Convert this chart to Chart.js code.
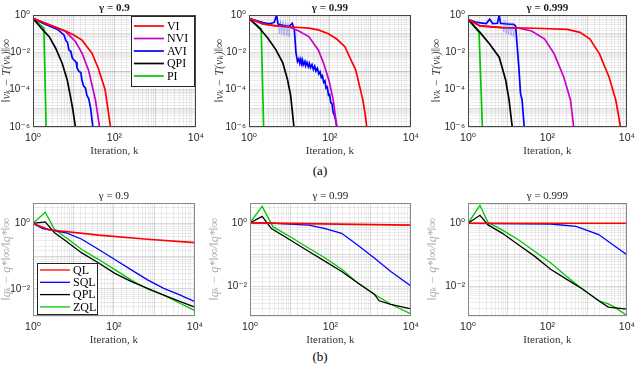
<!DOCTYPE html>
<html>
<head>
<meta charset="utf-8">
<script src="https://cdn.jsdelivr.net/npm/chart.js@4.4.1/dist/chart.umd.min.js"></script>
<style>
  html, body { margin: 0; padding: 0; background: #fff; }
  #fig { position: relative; width: 640px; height: 374px; overflow: hidden; background: #fff; }
  #fig canvas { position: absolute; }
  .tag { position: absolute; width: 40px; text-align: center; font: 13px "Liberation Serif", "DejaVu Serif", serif; color: #000; }
</style>
</head>
<body>
<div id="fig">
  <div class="tag" style="left:300px; top:163px">(a)</div>
  <div class="tag" style="left:300px; top:349px">(b)</div>
</div>
<script>
// tick labels (powers of ten that carry a label)
const xTickExps = [0, 2, 4];
const topTickExps = [0, -2, -4, -6];
const bottomTickExps = [0, -2];
const gammaTitles = ["γ = 0.9", "γ = 0.99", "γ = 0.999"];
const viNames = ["VI", "NVI", "AVI", "QPI", "PI"];
const qlNames = ["QL", "SQL", "QPL", "ZQL"];

// (a) ||v_k - T(v_k)||, pairs of [k, value]
const vi09 = [[1,0.66],[2.5,0.3],[6.3,0.14],[10,0.085],[16,0.045],[28,0.009],[40,1.4e-3],[59,1e-4],[80,1e-6]];
const nvi09 = [[1,0.66],[2.5,0.3],[6.3,0.13],[11,0.038],[16,0.009],[23.4,1e-3],[34,2.9e-5],[43,1e-6]];
const avi09 = [[1,0.66],[1.74,0.36],[4,0.17],[5.75,0.085],[6.5,0.04],[7,0.035],[7.6,0.0135],[8.5,0.011],[9.2,0.005],[10,0.004],[11.5,0.003],[12,0.0015],[13.2,1e-3],[15,8e-4],[16,3e-4],[17.4,1.6e-4],[19.5,1.2e-4],[21,5e-5],[23.4,3.2e-5],[26,1e-5],[29.5,1e-6]];
const qpi09 = [[1,0.66],[1.74,0.158],[2.5,0.069],[3.6,0.0166],[5.2,2.6e-3],[6.9,3.4e-4],[8.3,4.4e-5],[9.5,8.5e-6],[11,1e-6]];
const pi09 = [[1,0.66],[1.85,0.2],[2.1,1e-6]];

const vi099 = [[1,0.66],[2.2,0.33],[4.6,0.26],[14,0.22],[30,0.2],[52,0.16],[91,0.1],[150,0.05],[234,0.02],[339,3.5e-3],[430,1.2e-3],[537,1.6e-4],[646,3e-5],[740,5e-6],[813,1e-6]];
const nvi099 = [[1,0.66],[2.2,0.33],[4.6,0.26],[10,0.23],[17,0.14],[30,0.07],[52,0.013],[70,2.5e-3],[95,3e-4],[120,3e-5],[148,1e-6]];
const avi099 = [[1,0.66],[1.5,0.5],[2.2,0.39],[3.2,0.34],[4.2,0.4],[4.8,1.0],[5.2,0.33],[7,0.28],[9.8,0.24],[11.7,0.36],[13.2,0.16],[14.5,0.009],[15.8,3.2e-3],[17,4.5e-3],[18,2.6e-3],[19,4.2e-3],[20,2.4e-3],[21,3.8e-3],[22,2.2e-3],[24,3.3e-3],[25,1.9e-3],[27,2.9e-3],[29,1.7e-3],[31,2.6e-3],[33,1.5e-3],[36,2.2e-3],[39,1.2e-3],[42,1.8e-3],[45,1.0e-3],[49,1.4e-3],[53,7e-4],[57,9e-4],[61,4.5e-4],[65,5.5e-4],[70,2.5e-4],[75,3e-4],[80,1.2e-4],[86,1.4e-4],[92,5e-5],[98,5.5e-5],[105,2e-5],[112,1.8e-5],[120,6e-6],[130,4e-6],[140,2e-6],[148,1e-6]];
const aviOsc099 = [[5.3,0.45],[5.6,0.1],[6,0.5],[6.4,0.09],[6.9,0.45],[7.4,0.08],[8,0.4],[8.6,0.08],[9.2,0.35],[9.8,0.07],[10.5,0.3]];
const qpi099 = [[1,0.66],[1.8,0.2],[2.9,0.059],[4.6,0.014],[6.8,2.8e-3],[8.9,3.6e-4],[10.7,4.8e-5],[12.9,1e-6]];
const pi099 = [[1,0.66],[2,0.18],[2.3,1e-6]];

const vi0999 = [[1,0.59],[2,0.26],[7.4,0.21],[48,0.195],[316,0.17],[660,0.117],[1175,0.051],[2040,8.3e-3],[3550,4.8e-4],[5250,2.8e-5],[6900,1e-6]];
const nvi0999 = [[1,0.59],[2,0.26],[7.4,0.21],[19,0.195],[40,0.14],[85,0.051],[148,8.3e-3],[257,4.8e-4],[380,2.8e-5],[457,1e-6]];
const avi0999 = [[1,0.59],[1.66,0.4],[2.9,0.35],[3.5,0.59],[4.2,0.35],[5.5,0.36],[6.1,1.0],[6.6,0.35],[7.4,0.35],[10.8,0.32],[14,0.32],[15.8,0.26],[19,1.7e-3],[21,6.3e-5],[23,2.8e-5],[26,1e-6]];
const aviOsc0999 = [[7.6,0.45],[8,0.12],[8.6,0.5],[9.2,0.1],[9.9,0.45],[10.6,0.09],[11.4,0.4],[12.2,0.08],[13.1,0.35],[14,0.07],[15,0.3]];
const qpi0999 = [[1,0.59],[2,0.117],[3.5,0.028],[6.1,5.5e-3],[8.9,3.2e-4],[10.8,2.8e-5],[13,1e-6]];
const pi0999 = [[1,0.59],[1.9,0.117],[2.3,1e-6]];

// (b) ||q_k - q*|| / ||q*||
const ql09 = [[1,1],[2.5,0.64],[42,0.44],[676,0.33],[10000,0.26]];
const sql09 = [[1,1],[1.74,0.7],[3,0.62],[6.5,0.52],[16,0.33],[42,0.16],[105,0.079],[263,0.039],[676,0.019],[1700,0.0105],[4365,6.5e-3],[10000,4.1e-3]];
const qpl09 = [[1,1],[2,1.12],[3.4,0.52],[6.5,0.29],[16,0.126],[42,0.062],[105,0.03],[263,0.017],[676,0.0105],[1700,6.5e-3],[4365,4.1e-3],[10000,2.8e-3]];
const zql09 = [[1,1],[2,2.2],[3.4,0.66],[6.5,0.37],[16,0.16],[42,0.079],[105,0.039],[263,0.019],[676,0.01],[1700,6.5e-3],[4365,3.6e-3],[10000,2.2e-3]];

const ql099 = [[1,1],[10000,0.85]];
const sql099 = [[1,1],[3.4,0.98],[29,0.85],[74,0.66],[190,0.47],[480,0.2],[1230,0.079],[3160,0.03],[10000,0.0105]];
const qpl099 = [[1,1],[2,1.6],[3.4,0.66],[11.5,0.26],[29,0.126],[74,0.062],[190,0.03],[480,0.013],[1230,5.8e-3],[1620,3.6e-3],[3160,2.8e-3],[10000,2e-3]];
const zql099 = [[1,1],[2,3.3],[3.7,0.76],[11.5,0.33],[29,0.16],[74,0.079],[190,0.035],[480,0.013],[1230,5.8e-3],[3160,2.8e-3],[10000,1.4e-3]];

const ql0999 = [[1,1],[10000,1]];
const sql0999 = [[1,1],[120,0.95],[525,0.8],[1950,0.44],[4900,0.19],[10000,0.1]];
const qpl0999 = [[1,1],[2,1.8],[3.2,0.89],[7.2,0.49],[18.6,0.21],[47,0.091],[120,0.035],[300,0.017],[760,8.3e-3],[1950,3.5e-3],[3400,2.2e-3],[10000,1.9e-3]];
const zql0999 = [[1,1],[2,3.7],[3.2,1.05],[7.2,0.62],[18.6,0.3],[47,0.13],[120,0.056],[300,0.021],[760,8.3e-3],[1950,3.5e-3],[3400,2.8e-3],[4900,2.2e-3],[10000,1.2e-3]];

const SERIF = '"Liberation Serif", "DejaVu Serif", serif';
const SANS = '"Liberation Sans", "DejaVu Sans", sans-serif';
const colors = { red: "#ff0000", magenta: "#cc00cc", blue: "#0000ff", black: "#000000", green: "#00c800" };

const supChars = { "0": "⁰", "1": "¹", "2": "²", "3": "³", "4": "⁴", "5": "⁵", "6": "⁶", "7": "⁷", "8": "⁸", "9": "⁹", "-": "⁻" };
function powLabel(e) {
    return "10" + String(e).split("").map(c => supChars[c]).join("");
}
function isDecade(v) {
    const e = Math.log10(v);
    return Math.abs(e - Math.round(e)) < 1e-6;
}
function tickLabeler(exps) {
    return (value) => {
        if (!isDecade(value)) return "";
        const e = Math.round(Math.log10(value));
        return exps.includes(e) ? powLabel(e) : "";
    };
}

function series(label, pairs, color, width, extra) {
    return Object.assign({
        label: label,
        data: pairs.map(([x, y]) => ({ x, y })),
        borderColor: color,
        borderWidth: width,
        pointRadius: 0,
        tension: 0,
        fill: false,
    }, extra || {});
}

// Frame, title and boxed legend drawn inside the chart area
const panelDecor = {
    id: "panelDecor",
    afterDraw(chart, args, o) {
        const ca = chart.chartArea;
        const ctx = chart.ctx;
        ctx.save();
        ctx.strokeStyle = o.frameColor;
        ctx.lineWidth = 1;
        ctx.strokeRect(Math.round(ca.left) + 0.5, Math.round(ca.top) + 0.5,
            Math.round(ca.right - ca.left) - 1, Math.round(ca.bottom - ca.top) - 1);

        ctx.fillStyle = o.titleColor;
        ctx.font = o.titleWeight + " 11px " + SERIF;
        ctx.textAlign = "center";
        ctx.textBaseline = "middle";
        ctx.fillText(o.title, (ca.left + ca.right) / 2, ca.top - 7);

        if (o.legend) {
            const L = o.legend;
            const items = chart.data.datasets.filter(d => !d.noLegend);
            const x0 = L.corner === "tr" ? ca.right - L.dx - L.w : ca.left + L.dx;
            const y0 = L.corner === "tr" ? ca.top + L.dy : ca.bottom - L.dy - L.h;
            ctx.fillStyle = "#fff";
            ctx.fillRect(x0, y0, L.w, L.h);
            ctx.strokeStyle = "#262626";
            ctx.lineWidth = 1;
            ctx.strokeRect(Math.round(x0) + 0.5, Math.round(y0) + 0.5, L.w, L.h);
            ctx.font = "12px " + SERIF;
            ctx.textAlign = "left";
            items.forEach((d, i) => {
                const y = y0 + L.first + i * L.row;
                ctx.strokeStyle = d.borderColor;
                ctx.lineWidth = L.lw;
                ctx.beginPath();
                ctx.moveTo(x0 + 3, y);
                ctx.lineTo(x0 + 33, y);
                ctx.stroke();
                ctx.fillStyle = "#000";
                ctx.fillText(d.label, x0 + 36, y + 0.5);
            });
        }
        ctx.restore();
    }
};

const fig = document.getElementById("fig");

function addPanel(p) {
    const xh = 33, th = 15, rp = p.rp || 10;
    const canvas = document.createElement("canvas");
    canvas.width = p.yw + (p.right - p.left) + rp;
    canvas.height = th + (p.bottom - p.top) + xh;
    canvas.style.left = (p.left - p.yw) + "px";
    canvas.style.top = (p.top - th) + "px";
    fig.appendChild(canvas);

    const gridColor = (c) => (c.tick && isDecade(c.tick.value)) ? "rgba(0,0,0,0.14)" : "rgba(0,0,0,0.07)";

    new Chart(canvas.getContext("2d"), {
        type: "line",
        data: { datasets: p.datasets },
        options: {
            responsive: false,
            animation: false,
            devicePixelRatio: 1,
            events: [],
            layout: { autoPadding: false, padding: { top: th, right: rp, left: 0, bottom: 0 } },
            plugins: {
                legend: { display: false },
                tooltip: { enabled: false },
                panelDecor: {
                    title: p.title,
                    titleWeight: p.titleWeight,
                    titleColor: "#222",
                    frameColor: p.frameColor,
                    legend: p.legend || null,
                },
            },
            scales: {
                x: {
                    type: "logarithmic",
                    min: 1,
                    max: 10000,
                    afterFit: (s) => { s.height = xh; },
                    grid: { color: gridColor, drawTicks: false },
                    border: { display: false },
                    ticks: {
                        autoSkip: false, maxRotation: 0, minRotation: 0, padding: 5,
                        font: { family: SANS, size: 10.5 }, color: "#262626",
                        callback: tickLabeler(xTickExps),
                    },
                    title: {
                        display: true, text: "Iteration, k", color: "#333",
                        font: { family: SERIF, size: 11, lineHeight: 1.2 },
                        padding: { top: 0, bottom: 2 },
                    },
                },
                y: {
                    type: "logarithmic",
                    min: p.yMin,
                    max: p.yMax,
                    afterFit: (s) => { s.width = p.yw; },
                    grid: { color: gridColor, drawTicks: false },
                    border: { display: false },
                    ticks: {
                        autoSkip: false, padding: 3,
                        font: { family: SANS, size: 10 }, color: "#262626",
                        callback: tickLabeler(p.yExps),
                    },
                    title: {
                        display: true, text: p.yLabel, color: p.yLabelColor,
                        font: { family: SERIF, size: 12, style: "italic", lineHeight: 1.2 },
                        padding: { top: p.ytp, bottom: 0 },
                    },
                },
            },
        },
        plugins: [panelDecor],
    });
}

const topLabel = "‖vₖ − T(vₖ)‖∞";
const botLabel = "‖qₖ − q*‖∞/‖q*‖∞";
const tw = 1.7, bw = 1.3;

function topSets(vi, nvi, avi, osc, qpi, pi) {
    const sets = [];
    if (osc) sets.push(series("AVI osc", osc, "rgba(60,80,255,0.35)", 1, { noLegend: true }));
    sets.push(series(viNames[0], vi, colors.red, tw));
    sets.push(series(viNames[1], nvi, colors.magenta, tw));
    sets.push(series(viNames[2], avi, colors.blue, tw));
    sets.push(series(viNames[3], qpi, colors.black, tw));
    sets.push(series(viNames[4], pi, colors.green, tw));
    return sets;
}
function botSets(ql, sql, qpl, zql) {
    return [
        series(qlNames[0], ql, colors.red, 1.6),
        series(qlNames[1], sql, colors.blue, bw),
        series(qlNames[2], qpl, colors.black, bw),
        series(qlNames[3], zql, colors.green, bw),
    ];
}

const topCommon = { top: 15, bottom: 127, yMin: 1e-6, yMax: 1, yExps: topTickExps, yLabel: topLabel,
    yLabelColor: "#444", titleWeight: "bold", frameColor: "#444", ytp: 0 };
const botCommon = { top: 203, bottom: 316, yExps: bottomTickExps, yLabel: botLabel,
    yLabelColor: "#aaa", titleWeight: "normal", frameColor: "#888", ytp: 0 };

addPanel(Object.assign({}, topCommon, {
    left: 33, right: 199, yw: 33, title: gammaTitles[0],
    datasets: topSets(vi09, nvi09, avi09, null, qpi09, pi09),
    legend: { corner: "tr", dx: 2, dy: 1, w: 63, h: 70, first: 10, row: 12.5, lw: 1.7 },
}));
addPanel(Object.assign({}, topCommon, {
    left: 249, right: 414, yw: 38, ytp: 2, title: gammaTitles[1],
    datasets: topSets(vi099, nvi099, avi099, aviOsc099, qpi099, pi099),
}));
addPanel(Object.assign({}, topCommon, {
    left: 468, right: 632, yw: 40, ytp: 2, rp: 8, title: gammaTitles[2],
    datasets: topSets(vi0999, nvi0999, avi0999, aviOsc0999, qpi0999, pi0999),
}));

addPanel(Object.assign({}, botCommon, {
    left: 33, right: 198, yw: 33, yMin: 1.5e-3, yMax: 4.2, title: gammaTitles[0],
    datasets: botSets(ql09, sql09, qpl09, zql09),
    legend: { corner: "bl", dx: 4, dy: 2, w: 60, h: 51, first: 7, row: 12.3, lw: 1.3 },
}));
addPanel(Object.assign({}, botCommon, {
    left: 250, right: 414, yw: 42, yMin: 1.2e-3, yMax: 4.2, title: gammaTitles[1],
    datasets: botSets(ql099, sql099, qpl099, zql099),
}));
addPanel(Object.assign({}, botCommon, {
    left: 468, right: 633, yw: 42, rp: 7, yMin: 1.15e-3, yMax: 4.4, title: gammaTitles[2],
    datasets: botSets(ql0999, sql0999, qpl0999, zql0999),
}));
</script>
</body>
</html>
